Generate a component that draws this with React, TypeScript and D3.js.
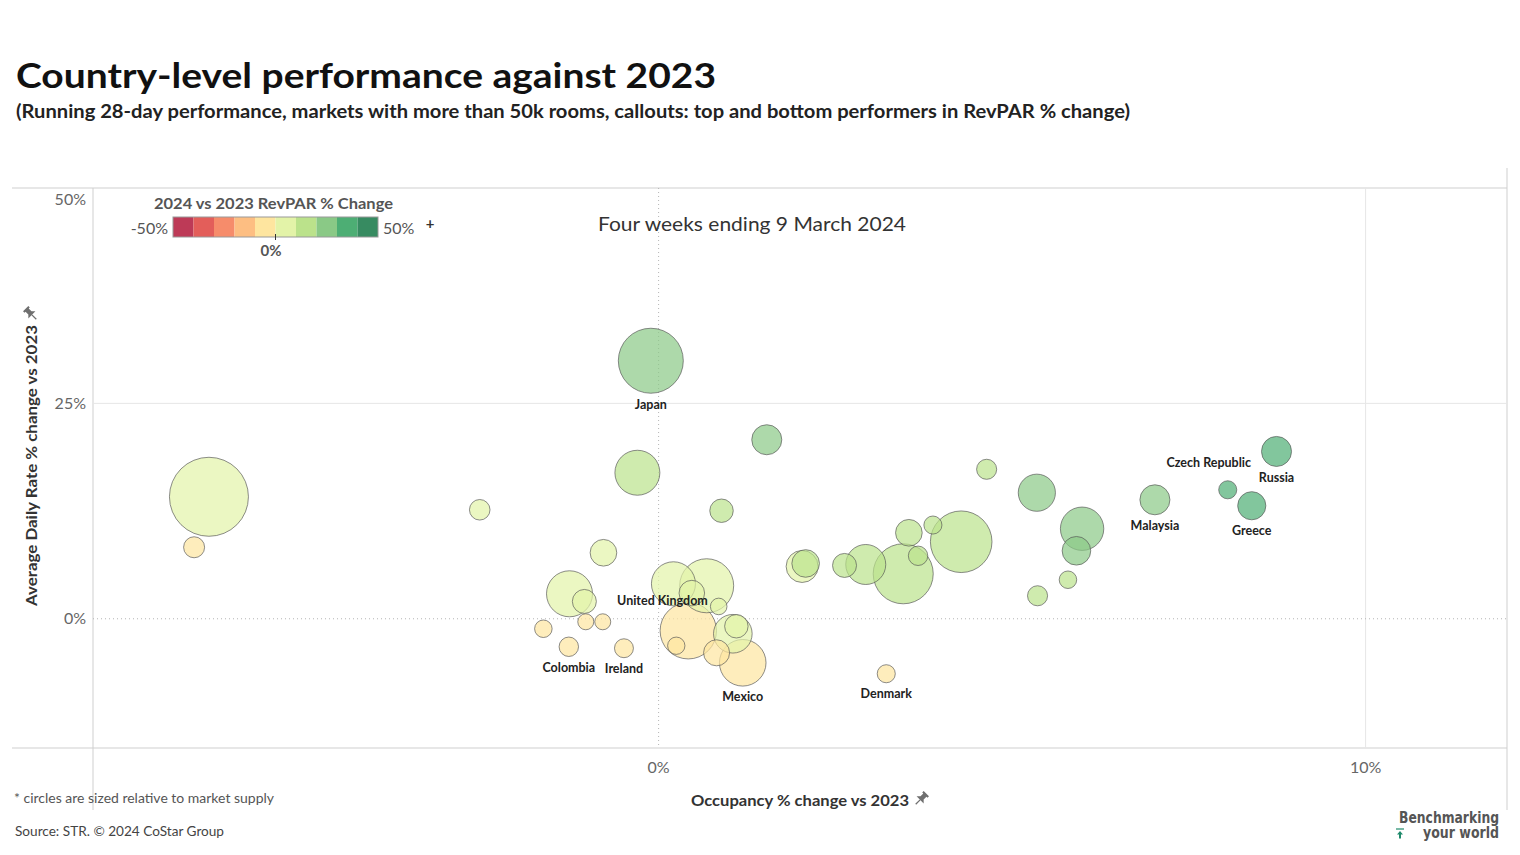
import React from 'react';
import * as d3 from 'd3';

// Callout names ('' = unlabeled market)
const names = [
  '', '', '', 'Japan', '', '', '', '', '', '',
  '', '', '', 'Colombia', 'Ireland', 'United Kingdom', '', '', '', '',
  '', '', '', '', 'Mexico', '', '', '', '', '',
  '', '', '', '', '', '', '', '', '', '',
  'Malaysia', 'Czech Republic', 'Greece', 'Russia', 'Denmark',
];

// Occupancy % change vs 2023
const occChange = [
  -6.36, -6.57, -2.53, -0.11, 1.53, -0.30, 0.89, -0.78, -1.26, -1.05,
  -1.63, -1.03, -0.79, -1.27, -0.49, 0.21, 0.68, 0.47, 0.85, 0.42,
  0.25, 1.05, 1.10, 0.82, 1.19, 2.03, 2.08, 2.63, 2.93, 3.46,
  3.54, 3.88, 3.67, 4.28, 4.64, 5.35, 5.99, 5.91, 5.79, 5.36,
  7.02, 8.05, 8.39, 8.74, 3.22,
];

// Average Daily Rate % change vs 2023
const adrChange = [
  14.16, 8.30, 12.65, 29.95, 20.78, 16.95, 12.54, 7.66, 2.90, 2.01,
  -1.16, -0.35, -0.35, -3.25, -3.42, 4.06, 3.83, 2.98, 1.43, -1.39,
  -3.13, -1.74, -0.87, -3.95, -5.11, 6.07, 6.42, 6.19, 6.30, 5.22,
  9.98, 10.88, 7.31, 8.94, 17.35, 14.63, 10.45, 7.89, 4.53, 2.67,
  13.81, 14.97, 13.12, 19.42, -6.38,
];

// Market supply (thousand rooms, approx.)
const supply = [
  975, 69, 66, 660, 141, 316, 86, 111, 331, 90,
  48, 40, 40, 59, 56, 303, 456, 102, 43, 497,
  47, 233, 86, 106, 339, 160, 119, 90, 250, 563,
  111, 51, 59, 593, 63, 216, 294, 128, 48, 63,
  141, 51, 124, 141, 51,
];

// RevPAR % change vs 2023 (drives colour)
const revparChange = [
  7.0, -1.0, 9.8, 29.8, 22.6, 16.6, 13.5, 6.8, 1.6, 0.9,
  -2.8, -1.4, -1.1, -4.5, -3.9, 4.3, 4.5, 3.5, 2.3, -1.0,
  -2.9, 0.5, 0.5, -3.2, -4.0, 8.2, 10.5, 10.0, 10.4, 10.2,
  13.9, 15.2, 11.2, 13.6, 19.0, 20.8, 21.0, 20.5, 10.6, 10.2,
  21.8, 30.5, 30.2, 30.3, -3.4,
];

const legendColors = [
  '#bd3a57', '#e35e5a', '#f68c6b', '#fdbe82', '#fee59f',
  '#e3f3a8', '#bbe28b', '#8ac986', '#4dae74', '#378b61',
];
const legendBreaks = [-40, -30, -20, -10, 0, 10, 20, 30, 40];

const xTicks = [0, 10];
const yTicks = [0, 25, 50];

const FONT = 'Lato, "Noto Sans", sans-serif';

const W = 1520;
const H = 855;
const L = 93, R = 1507, T = 188, B = 748;

const Pin: React.FC<{ x: number; y: number; rot?: number }> = ({ x, y, rot = 0 }) => (
  <g transform={`translate(${x},${y}) rotate(${45 + rot}) scale(1.25)`} fill="#6f6f6f">
    <path d="M-3,-6 h6 v1.6 h-1.2 v3.2 l2.2,2.2 h-8 l2.2,-2.2 v-3.2 h-1.2 z" />
    <rect x={-0.5} y={1} width={1} height={5} />
  </g>
);

export default function App() {
  const x = d3.scaleLinear().domain([-8, 12]).range([L, R]);
  const y = d3.scaleLinear().domain([-15, 50]).range([B, T]);
  const r = d3.scaleSqrt().domain([0, 1000]).range([0, 40]);
  const color = d3.scaleThreshold<number, string>().domain(legendBreaks).range(legendColors);
  const lx = d3.scaleLinear().domain([-50, 50]).range([173, 378]);

  const pts = occChange.map((o, i) => ({
    name: names[i],
    cx: x(o),
    cy: y(adrChange[i]),
    rad: r(supply[i]),
    fill: color(revparChange[i]),
  }));
  const drawOrder = [...pts].sort((a, b) => b.rad - a.rad);

  const nudge: Record<string, [number, number]> = {
    'Czech Republic': [-19, -27],
    'United Kingdom': [-11, 17],
  };

  return (
    <svg width={W} height={H} style={{ position: 'absolute', left: 0, top: 0, background: '#fff' }} fontFamily={FONT}>
      {/* titles */}
      <text x={16} y={88} fontSize={35} fontWeight={700} fill="#111" textLength={700} lengthAdjust="spacingAndGlyphs">
        Country-level performance against 2023
      </text>
      <text x={16} y={118} fontSize={18} fontWeight={700} fill="#222" textLength={1114} lengthAdjust="spacingAndGlyphs">
        (Running 28-day performance, markets with more than 50k rooms, callouts: top and bottom performers in RevPAR % change)
      </text>

      {/* frame */}
      <line x1={12} x2={R} y1={T} y2={T} stroke="#cfcfcf" />
      <line x1={12} x2={R} y1={B} y2={B} stroke="#cfcfcf" />
      <line x1={L} x2={L} y1={T} y2={810} stroke="#cfcfcf" />
      <line x1={R} x2={R} y1={168} y2={810} stroke="#cfcfcf" />

      {/* grid */}
      {xTicks.filter(t => t !== 0).map(t => (
        <line key={`gx${t}`} x1={x(t)} x2={x(t)} y1={T} y2={B} stroke="#e6e6e6" />
      ))}
      {yTicks.filter(t => t !== 0 && t !== 50).map(t => (
        <line key={`gy${t}`} x1={L} x2={R} y1={y(t)} y2={y(t)} stroke="#e6e6e6" />
      ))}
      <line x1={x(0)} x2={x(0)} y1={T} y2={B} stroke="#b5b5b5" strokeDasharray="1,3" />
      <line x1={L} x2={R} y1={y(0)} y2={y(0)} stroke="#b5b5b5" strokeDasharray="1,3" />

      {/* ticks */}
      {yTicks.map(t => (
        <text key={`ty${t}`} x={86} y={Math.max(y(t), T + 11)} dy="0.35em" textAnchor="end" fontSize={16} fill="#666">
          {`${t}%`}
        </text>
      ))}
      {xTicks.map(t => (
        <text key={`tx${t}`} x={x(t)} y={767} dy="0.35em" textAnchor="middle" fontSize={16} fill="#666">
          {`${t}%`}
        </text>
      ))}

      {/* axis titles */}
      <text x={691} y={800} dy="0.35em" fontSize={16} fontWeight={700} fill="#333" textLength={218} lengthAdjust="spacingAndGlyphs">
        Occupancy % change vs 2023
      </text>
      <Pin x={921} y={799} />
      <text transform="translate(31,606) rotate(-90)" dy="0.35em" fontSize={16} fontWeight={700} fill="#333" textLength={281} lengthAdjust="spacingAndGlyphs">
        Average Daily Rate % change vs 2023
      </text>
      <Pin x={31} y={314} rot={-90} />

      {/* bubbles */}
      {drawOrder.map((p, i) => (
        <circle key={i} cx={p.cx} cy={p.cy} r={p.rad} fill={p.fill} fillOpacity={0.7}
          stroke="#555" strokeOpacity={0.75} strokeWidth={0.9} />
      ))}

      {/* callouts */}
      {pts.filter(p => p.name).map(p => {
        const n = nudge[p.name];
        const tx = n ? p.cx + n[0] : p.cx;
        const ty = n ? p.cy + n[1] : p.cy + p.rad + 11;
        return (
          <text key={p.name} x={tx} y={ty} dy="0.35em" textAnchor="middle" fontSize={12.5} fontWeight={700} fill="#222">
            {p.name}
          </text>
        );
      })}

      {/* annotation */}
      <text x={598} y={224} dy="0.35em" fontSize={20} fill="#333" textLength={308} lengthAdjust="spacingAndGlyphs">
        Four weeks ending 9 March 2024
      </text>

      {/* legend */}
      <text x={154} y={203} dy="0.35em" fontSize={16} fontWeight={700} fill="#555" textLength={239} lengthAdjust="spacingAndGlyphs">
        2024 vs 2023 RevPAR % Change
      </text>
      {legendColors.map((c, i) => (
        <rect key={c} x={lx(-50 + i * 10)} y={217} width={lx(-40) - lx(-50)} height={20} fill={c} />
      ))}
      <rect x={lx(-50)} y={217} width={lx(50) - lx(-50)} height={20} fill="none" stroke="#999" />
      <line x1={lx(0)} x2={lx(0)} y1={234} y2={240} stroke="#333" />
      <text x={168} y={228} dy="0.35em" textAnchor="end" fontSize={16} fill="#555">-50%</text>
      <text x={383} y={228} dy="0.35em" fontSize={16} fill="#555">50%</text>
      <text x={430} y={224} dy="0.35em" textAnchor="middle" fontSize={15} fontWeight={700} fill="#333">+</text>
      <text x={271} y={251} dy="0.35em" textAnchor="middle" fontSize={15} fontWeight={700} fill="#555">0%</text>

      {/* footer */}
      <text x={14} y={798} dy="0.35em" fontSize={13.5} fill="#555" textLength={260} lengthAdjust="spacingAndGlyphs">
        * circles are sized relative to market supply
      </text>
      <text x={15} y={831} dy="0.35em" fontSize={13.5} fill="#444" textLength={209} lengthAdjust="spacingAndGlyphs">
        Source: STR. © 2024 CoStar Group
      </text>

      {/* logo */}
      <g fontFamily='"DejaVu Sans Condensed", "DejaVu Sans", sans-serif' fontWeight={700} fill="#555" fontSize={15}>
        <text x={1499} y={823} textAnchor="end" textLength={100} lengthAdjust="spacingAndGlyphs">Benchmarking</text>
        <text x={1499} y={838} textAnchor="end" textLength={76} lengthAdjust="spacingAndGlyphs">your world</text>
      </g>
      <g fill="#1f8a6b" stroke="#1f8a6b">
        <line x1={1396} x2={1404} y1={829} y2={829} strokeWidth={1.2} />
        <path d="M1400,831 l-3,3.5 h2 v4 h2 v-4 h2 z" stroke="none" />
      </g>
    </svg>
  );
}
